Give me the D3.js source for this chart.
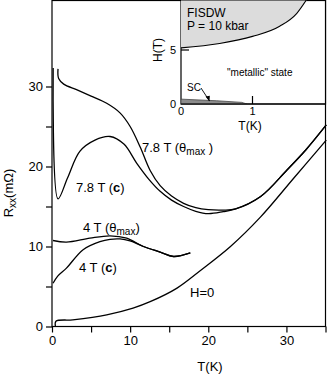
<!DOCTYPE html>
<html>
<head>
<meta charset="utf-8">
<script src="https://cdn.jsdelivr.net/npm/d3@7"></script>
<style>
  body { margin: 0; background: #fff; }
  svg text { font-family: "Liberation Sans", Arial, Helvetica, sans-serif; fill: #000; }
</style>
</head>
<body>
<script>
"use strict";
// temperatures (K) and resistance (mOhm)
const h78cT = [0.15, 0.77, 2.0, 3.56, 5.5, 7.43, 9.2, 10.85, 12.4, 13.84, 15.3, 16.84, 18.4, 20.0, 21.9, 23.5, 26.7, 30.1, 32.5, 35.1]
const h78cR = [32.3, 15.96, 18.6, 21.9, 23.3, 23.75, 22.8, 20.4, 18.4, 16.9, 15.8, 15.0, 14.4, 14.1, 14.35, 14.7, 16.25, 19.6, 22.1, 25.2]
const h78mT = [0.77, 0.85, 1.5, 3.14, 5.0, 7.0, 8.7, 10.0, 11.3, 12.56, 13.84, 15.3, 16.84, 18.4, 20.0, 21.9, 23.5, 26.7, 30.1, 32.5, 35.1]
const h78mR = [32.2, 31.0, 30.3, 29.6, 28.8, 27.9, 26.7, 25.0, 22.4, 19.5, 17.6, 16.3, 15.4, 14.85, 14.6, 14.55, 14.7, 16.25, 19.6, 22.1, 25.2]
const h4mT = [0.13, 1.85, 4.85, 7.42, 9.56, 11.7, 13.84, 15.55, 17.7]
const h4mR = [10.75, 10.55, 11.05, 11.34, 11.05, 10.0, 9.3, 8.75, 9.2]
const h4cT = [0.13, 0.73, 1.85, 3.98, 6.13, 7.42, 8.7, 9.99, 11.7, 13.84, 15.55, 17.7]
const h4cR = [5.4, 6.3, 7.3, 9.6, 10.6, 10.9, 10.95, 10.7, 10.0, 9.3, 8.75, 9.2]
const h0T = [0.44, 0.5, 2.66, 7.0, 10.37, 12.56, 16.0, 19.0, 22.84, 26.7, 30.9, 35.1]
const h0R = [0, 0.65, 0.84, 1.46, 2.3, 3.1, 4.8, 7.0, 10.0, 13.7, 18.5, 23.3]

// inset phase diagram, T (K) and H (T)
const fisdwT = [0, 0.54, 1.0, 1.38, 1.62, 1.76]
const fisdwH = [5.2, 5.6, 6.26, 7.2, 8.4, 9.7]
const scT = [0, 0.5, 0.85, 0.92]
const scH = [0.45, 0.3, 0.15, 0]

const xTicks = [0, 10, 20, 30]
const yTicks = [0, 10, 20, 30]
const insetXTicks = [0, 1]
const insetYTicks = [0, 5]

;(function(){
    const measurements = { width: 327, height: 375 }
    const svg = d3.select('body').append('svg')
        .attr('width', measurements.width)
        .attr('height', measurements.height)

    const x = d3.scaleLinear().domain([0, 35]).range([52, 325.5])
    const y = d3.scaleLinear().domain([0, 30]).range([326.5, 86.5])
    const yTop = y.invert(0.5)

    const zip = (a, b) => a.map((v, i) => [v, b[i]])
    const line = d3.line().x(d => x(d[0])).y(d => y(d[1])).curve(d3.curveCatmullRom.alpha(0.5))

    // frame
    svg.append('rect')
        .attr('x', x(0)).attr('y', y(yTop))
        .attr('width', x(35) - x(0)).attr('height', y(0) - y(yTop))
        .attr('fill', 'none').attr('stroke', '#000').attr('stroke-width', 1.2)

    // axes
    svg.append('g')
        .attr('class', 'xaxis')
        .attr('transform', `translate(0,${y(0)})`)
        .call(d3.axisBottom(x).tickValues(d3.range(0, 36, 5)).tickSize(6)
            .tickFormat(d => xTicks.includes(d) ? d : ''))
        .call(g => g.select('.domain').remove())
    svg.append('g')
        .attr('transform', `translate(${x(0)},0)`)
        .call(d3.axisLeft(y).tickValues(d3.range(0, 31, 5)).tickSize(6)
            .tickFormat(d => yTicks.includes(d) ? d : ''))
        .call(g => g.select('.domain').remove())
    svg.selectAll('.tick line').attr('stroke', '#000').attr('stroke-width', 1.2)
    svg.selectAll('.tick text').style('font-size', '13px')
        .style('font-family', '"Liberation Sans", Arial, sans-serif')
    svg.selectAll('.xaxis .tick text').attr('y', 9)

    svg.append('text').attr('x', 210).attr('y', 371)
        .attr('text-anchor', 'middle').style('font-size', '13px').text('T(K)')

    const yl = svg.append('text')
        .attr('transform', 'translate(13,193) rotate(-90)')
        .attr('text-anchor', 'middle').style('font-size', '13px')
    yl.append('tspan').text('R')
    yl.append('tspan').attr('baseline-shift', '-25%').style('font-size', '10px').text('xx')
    yl.append('tspan').text('(mΩ)')

    // curves
    const series = [zip(h78cT, h78cR), zip(h78mT, h78mR), zip(h4mT, h4mR), zip(h4cT, h4cR), zip(h0T, h0R)]
    svg.selectAll('.curve')
        .data(series)
        .enter()
        .append('path')
            .attr('class', 'curve')
            .attr('d', line)
            .attr('fill', 'none')
            .attr('stroke', '#000')
            .attr('stroke-width', 1.3)

    // curve labels
    function label(px, py, head, sub, tail, bold) {
        const t = svg.append('text').attr('x', px).attr('y', py).style('font-size', '13px')
        t.append('tspan').text(head)
        if (sub) {
            t.append('tspan').attr('baseline-shift', '-25%').style('font-size', '10px').text(sub)
            t.append('tspan').text(tail)
        }
        if (bold) {
            t.append('tspan').style('font-weight', 'bold').text(bold)
            t.append('tspan').text(')')
        }
    }
    label(142, 152, '7.8 T (θ', 'max', ' )')
    label(76, 192, '7.8 T (', null, null, 'c')
    label(83, 232, '4 T (θ', 'max', ')')
    label(79, 272, '4 T (', null, null, 'c')
    svg.append('text').attr('x', 190).attr('y', 297).style('font-size', '13px').text('H=0')

    drawInset()

    function drawInset() {
        const ix = d3.scaleLinear().domain([0, 1]).range([181, 252.5])
        const iy = d3.scaleLinear().domain([0, 5]).range([104, 50])
        const iTop = iy.invert(0.5)
        const iRight = ix.invert(325.5)

        const g = svg.append('g')
        g.append('clipPath').attr('id', 'insetClip')
            .append('rect').attr('x', ix(0)).attr('y', 0)
            .attr('width', ix(iRight) - ix(0)).attr('height', iy(0))

        g.append('rect')
            .attr('x', ix(0)).attr('y', iy(iTop))
            .attr('width', ix(iRight) - ix(0)).attr('height', iy(0) - iy(iTop))
            .attr('fill', '#fff').attr('stroke', '#000').attr('stroke-width', 1.2)

        const inner = g.append('g').attr('clip-path', 'url(#insetClip)')

        const fisdw = zip(fisdwT, fisdwH)
        const area = d3.area().x(d => ix(d[0])).y0(iy(iTop)).y1(d => iy(d[1])).curve(d3.curveMonotoneX)
        inner.append('path').datum(fisdw).attr('d', area).attr('fill', '#dcdcdc')
        inner.append('path').datum(fisdw)
            .attr('d', d3.line().x(d => ix(d[0])).y(d => iy(d[1])).curve(d3.curveMonotoneX))
            .attr('fill', 'none').attr('stroke', '#000').attr('stroke-width', 1.1)

        const sc = zip(scT, scH)
        inner.append('path').datum(sc)
            .attr('d', d3.area().x(d => ix(d[0])).y0(iy(0)).y1(d => iy(d[1])))
            .attr('fill', '#8c8c8c').attr('stroke', '#444').attr('stroke-width', 0.8)

        // inset axis lines and ticks
        g.append('line').attr('x1', ix(0)).attr('x2', ix(iRight)).attr('y1', iy(0)).attr('y2', iy(0))
            .attr('stroke', '#000').attr('stroke-width', 1.2)
        g.selectAll('.ixt').data(insetXTicks.filter(d => d > 0)).enter().append('line')
            .attr('x1', d => ix(d)).attr('x2', d => ix(d))
            .attr('y1', iy(0)).attr('y2', iy(0) - 8)
            .attr('stroke', '#000').attr('stroke-width', 1.2)
        g.selectAll('.iyt').data(insetYTicks.filter(d => d > 0)).enter().append('line')
            .attr('x1', ix(0)).attr('x2', ix(0) + 8)
            .attr('y1', d => iy(d)).attr('y2', d => iy(d))
            .attr('stroke', '#000').attr('stroke-width', 1.2)
        g.selectAll('.ixl').data(insetXTicks).enter().append('text')
            .attr('x', d => ix(d)).attr('y', 115)
            .attr('text-anchor', 'middle').style('font-size', '11px').text(d => d)
        g.selectAll('.iyl').data(insetYTicks).enter().append('text')
            .attr('x', 176).attr('y', d => iy(d) + 4)
            .attr('text-anchor', 'end').style('font-size', '11px').text(d => d)

        g.append('text').attr('x', 250).attr('y', 130)
            .attr('text-anchor', 'middle').style('font-size', '12px').text('T(K)')
        g.append('text').attr('transform', 'translate(162,50) rotate(-90)')
            .attr('text-anchor', 'middle').style('font-size', '12px').text('H(T)')

        g.append('text').attr('x', 187).attr('y', 17).style('font-size', '12px').text('FISDW')
        g.append('text').attr('x', 187).attr('y', 29.5).style('font-size', '12px').text('P = 10 kbar')
        g.append('text').attr('x', 227).attr('y', 76).style('font-size', '10px').text('"metallic" state')
        g.append('text').attr('x', 187).attr('y', 91).style('font-size', '10px').text('SC')

        // arrow from SC label
        g.append('line').attr('x1', 201).attr('y1', 88).attr('x2', 209.5).attr('y2', 101)
            .attr('stroke', '#000').attr('stroke-width', 0.9)
        g.append('path').attr('d', 'M209.5,101.5 L205.5,96.5 L209.8,95.8 Z').attr('fill', '#000')
    }
})()
</script>
</body>
</html>
